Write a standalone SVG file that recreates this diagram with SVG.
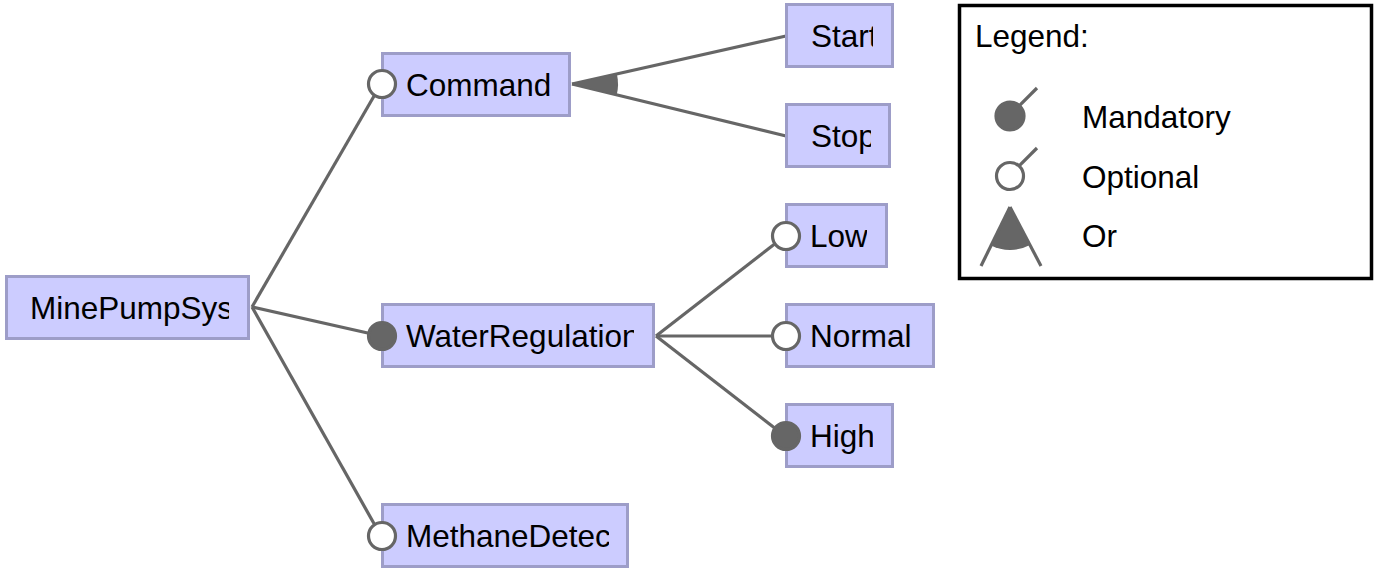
<svg xmlns="http://www.w3.org/2000/svg" width="1377" height="574" viewBox="0 0 1377 574">
<style>
.box{fill:#ccccff;stroke:#9d9dc8;stroke-width:3}
.lbl{font-family:"Liberation Sans",Arial,sans-serif;font-size:31.5px;fill:#000}
.edge{stroke:#666;stroke-width:3.2;fill:none}
.opt{fill:#fff;stroke:#666;stroke-width:3.2}
.man{fill:#666;stroke:#666;stroke-width:3.2}
.wedge{fill:#666;stroke:none}
</style>
<defs>
<clipPath id="c-root"><rect x="5" y="275" width="224" height="66"/></clipPath>
<clipPath id="c-cmd"><rect x="381" y="52" width="170" height="66"/></clipPath>
<clipPath id="c-start"><rect x="785" y="3" width="88" height="66"/></clipPath>
<clipPath id="c-stop"><rect x="785" y="103" width="86" height="66"/></clipPath>
<clipPath id="c-water"><rect x="381" y="303" width="253" height="66"/></clipPath>
<clipPath id="c-low"><rect x="785" y="203" width="82" height="66"/></clipPath>
<clipPath id="c-normal"><rect x="785" y="303" width="130" height="66"/></clipPath>
<clipPath id="c-high"><rect x="785" y="403" width="88" height="66"/></clipPath>
<clipPath id="c-meth"><rect x="381" y="503" width="228" height="66"/></clipPath>
</defs>
<rect width="1377" height="574" fill="#fff"/>
<g id="connectors">
<line class="edge" x1="252" y1="307" x2="381" y2="84"/>
<line class="edge" x1="252" y1="307" x2="381" y2="336"/>
<line class="edge" x1="252" y1="307" x2="381" y2="536"/>
<line class="edge" x1="572" y1="84" x2="786" y2="36"/>
<line class="edge" x1="572" y1="84" x2="786" y2="136"/>
<path class="wedge" d="M572,84 L616.9,73.9 A46,46 0 0,1 616.7,94.9 Z"/>
<line class="edge" x1="656" y1="336" x2="785" y2="236"/>
<line class="edge" x1="656" y1="336" x2="785" y2="336"/>
<line class="edge" x1="656" y1="336" x2="785" y2="436"/>
</g>
<g id="MinePumpSys">
<rect class="box" x="6.5" y="276.5" width="242" height="62"/>
<text class="lbl" x="30" y="319" clip-path="url(#c-root)">MinePumpSystem</text>
</g>
<g id="Command">
<rect class="box" x="382.5" y="53.5" width="187" height="62"/>
<text class="lbl" x="406" y="96" clip-path="url(#c-cmd)">Command</text>
</g>
<g id="Start">
<rect class="box" x="786.5" y="4.5" width="106" height="62"/>
<text class="lbl" x="811" y="47" clip-path="url(#c-start)">Start</text>
</g>
<g id="Stop">
<rect class="box" x="786.5" y="104.5" width="103" height="62"/>
<text class="lbl" x="811" y="147" clip-path="url(#c-stop)">Stop</text>
</g>
<g id="WaterRegulation">
<rect class="box" x="382.5" y="304.5" width="271" height="62"/>
<text class="lbl" x="406" y="347" clip-path="url(#c-water)">WaterRegulation</text>
</g>
<g id="Low">
<rect class="box" x="786.5" y="204.5" width="100" height="62"/>
<text class="lbl" x="810" y="247" clip-path="url(#c-low)">Low</text>
</g>
<g id="Normal">
<rect class="box" x="786.5" y="304.5" width="147" height="62"/>
<text class="lbl" x="810" y="347" clip-path="url(#c-normal)">Normal</text>
</g>
<g id="High">
<rect class="box" x="786.5" y="404.5" width="106" height="62"/>
<text class="lbl" x="810" y="447" clip-path="url(#c-high)">High</text>
</g>
<g id="MethaneDetection">
<rect class="box" x="382.5" y="504.5" width="245" height="62"/>
<text class="lbl" x="406" y="547" clip-path="url(#c-meth)">MethaneDetection</text>
</g>
<g id="decorators">
<circle class="opt" cx="382" cy="84" r="13.5"/>
<circle class="man" cx="382" cy="336" r="13.5"/>
<circle class="opt" cx="382" cy="536" r="13.5"/>
<circle class="opt" cx="786" cy="236" r="13.5"/>
<circle class="opt" cx="786" cy="336" r="13.5"/>
<circle class="man" cx="786" cy="436" r="13.5"/>
</g>
<g id="legend">
<rect x="959.5" y="5.5" width="412" height="273" fill="#fff" stroke="#000" stroke-width="3.5"/>
<text class="lbl" x="975" y="47">Legend:</text>
<line class="edge" x1="1010" y1="115" x2="1037" y2="88"/>
<circle class="man" cx="1010" cy="116" r="14"/>
<text class="lbl" x="1082" y="128">Mandatory</text>
<line class="edge" x1="1010" y1="175" x2="1037" y2="148"/>
<circle class="opt" cx="1010" cy="176" r="13.5"/>
<text class="lbl" x="1082" y="188">Optional</text>
<path class="wedge" d="M1010,207 L1030,245.1 A43,43 0 0,1 991,245.6 Z"/>
<line class="edge" x1="1010" y1="207" x2="981" y2="266"/>
<line class="edge" x1="1010" y1="207" x2="1041" y2="266"/>
<text class="lbl" x="1082" y="247">Or</text>
</g>
</svg>
